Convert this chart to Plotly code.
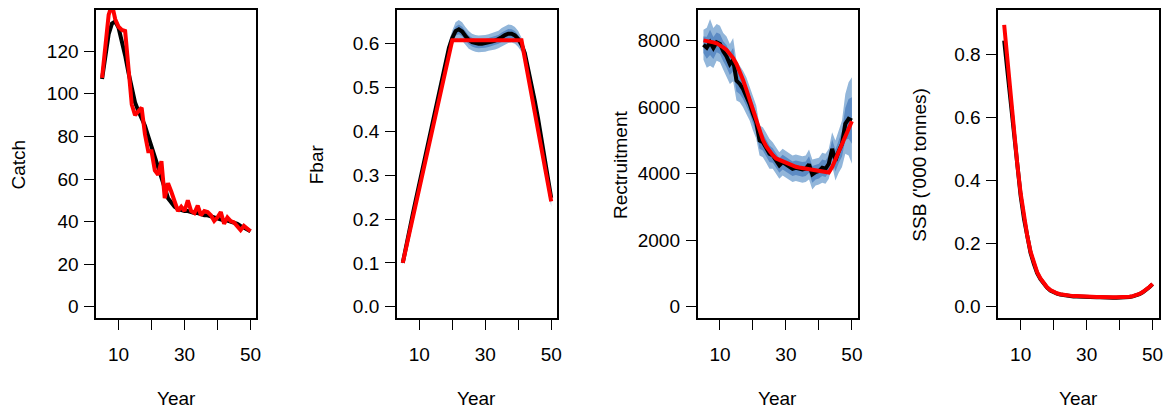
import plotly.graph_objects as go

years = list(range(5, 51))

# ---------------- Catch ----------------
catch_median = [107, 118, 128, 133, 134, 131, 125, 118, 110, 102,
                96, 92, 89, 85, 80, 75, 70, 65, 60, 55,
                51, 49, 47, 46, 45.5, 45, 45, 44.5, 44, 44,
                43.5, 43, 43, 42.5, 42, 41.5, 41, 40.5, 40.5, 40,
                39.5, 39, 38, 37, 36.5, 35.5]
catch_obs = [107.5, 122, 137, 142, 135, 131.5, 130, 129.5, 112, 95,
             90, 92, 93.5, 81, 73, 73, 64, 62, 68.4, 51,
             58, 54, 49, 45, 47, 45, 50, 45, 44, 47.5,
             43, 45, 44.5, 43, 40.3, 42, 44.5, 39, 42, 40.3,
             39.6, 38, 36, 38, 37, 35.5]

# ---------------- Fbar ----------------
fbar_median = [0.100, 0.140, 0.175, 0.210, 0.245, 0.280, 0.315, 0.350, 0.385, 0.420,
               0.455, 0.490, 0.525, 0.560, 0.590, 0.612, 0.628, 0.632, 0.627, 0.617,
               0.608, 0.603, 0.600, 0.599, 0.599, 0.600, 0.602, 0.604, 0.606, 0.609,
               0.614, 0.619, 0.622, 0.622, 0.618, 0.610, 0.597, 0.578, 0.545, 0.510,
               0.470, 0.430, 0.385, 0.340, 0.295, 0.248]
fbar_obs = [0.100, 0.134, 0.168, 0.201, 0.235, 0.269, 0.303, 0.337, 0.370, 0.404,
            0.438, 0.472, 0.506, 0.539, 0.573, 0.607, 0.607, 0.607, 0.607, 0.607,
            0.607, 0.607, 0.607, 0.607, 0.607, 0.607, 0.607, 0.607, 0.607, 0.607,
            0.607, 0.607, 0.607, 0.607, 0.607, 0.607, 0.607, 0.566, 0.526, 0.485,
            0.444, 0.403, 0.363, 0.322, 0.281, 0.240]
fbar_outer_hw = [0.004, 0.005, 0.006, 0.006, 0.007, 0.008, 0.008, 0.009, 0.010, 0.010,
                 0.011, 0.012, 0.013, 0.014, 0.015, 0.017, 0.020, 0.021, 0.021, 0.020,
                 0.020, 0.019, 0.019, 0.019, 0.019, 0.019, 0.019, 0.020, 0.020, 0.020,
                 0.021, 0.021, 0.021, 0.020, 0.019, 0.018, 0.016, 0.015, 0.014, 0.013,
                 0.013, 0.013, 0.014, 0.015, 0.017, 0.020]
fbar_inner_hw = [0.002, 0.003, 0.003, 0.003, 0.004, 0.004, 0.004, 0.005, 0.005, 0.005,
                 0.006, 0.006, 0.007, 0.007, 0.008, 0.009, 0.010, 0.011, 0.011, 0.010,
                 0.010, 0.010, 0.010, 0.010, 0.010, 0.010, 0.010, 0.010, 0.010, 0.010,
                 0.011, 0.011, 0.011, 0.010, 0.010, 0.009, 0.008, 0.008, 0.007, 0.007,
                 0.007, 0.007, 0.007, 0.008, 0.009, 0.010]

# ---------------- Recruitment ----------------
rec_median = [7880, 7790, 7950, 7780, 7950, 7900, 7680, 7530, 7300, 7430,
              6800, 6700, 6550, 6350, 6100, 5800, 5550, 5000, 4950, 4780,
              4600, 4550, 4400, 4250, 4350, 4280, 4230, 4150, 4180, 4150,
              4130, 4150, 4280, 3980, 4050, 4080, 4180, 4150, 4300, 4750,
              4400, 4680, 4900, 5500, 5650, 5600]
rec_obs = [8010, 8000, 7980, 7950, 7920, 7870, 7800, 7720, 7610, 7480,
           7300, 7080, 6820, 6530, 6220, 5890, 5560, 5260, 5020, 4830,
           4680, 4560, 4460, 4420, 4360, 4310, 4270, 4240, 4210, 4190,
           4170, 4150, 4130, 4110, 4095, 4080, 4065, 4050, 4040, 4200,
           4420, 4640, 4870, 5100, 5340, 5580]
rec_outer_hw = [450, 600, 700, 600, 550, 550, 550, 600, 600, 650,
                600, 550, 550, 550, 500, 500, 500, 450, 450, 450,
                450, 400, 400, 400, 400, 400, 400, 400, 400, 400,
                400, 400, 450, 450, 400, 400, 450, 450, 450, 500,
                600, 650, 700, 900, 1100, 1300]
rec_inner_hw = [250, 330, 380, 330, 300, 300, 300, 330, 330, 350,
                330, 300, 300, 300, 280, 280, 280, 250, 250, 250,
                250, 220, 220, 220, 220, 220, 220, 220, 220, 220,
                220, 220, 250, 250, 220, 220, 250, 250, 250, 280,
                330, 360, 380, 480, 600, 700]

# ---------------- SSB ----------------
ssb_median = [0.845, 0.745, 0.640, 0.535, 0.438, 0.352, 0.280, 0.220, 0.171, 0.136,
              0.107, 0.088, 0.072, 0.061, 0.052, 0.046, 0.042, 0.039, 0.037, 0.035,
              0.034, 0.033, 0.033, 0.032, 0.032, 0.031, 0.031, 0.030, 0.030, 0.030,
              0.029, 0.029, 0.029, 0.029, 0.029, 0.029, 0.029, 0.030, 0.031, 0.033,
              0.036, 0.040, 0.046, 0.053, 0.062, 0.072]
ssb_obs = [0.895, 0.780, 0.660, 0.550, 0.450, 0.360, 0.285, 0.225, 0.175, 0.140,
           0.110, 0.090, 0.074, 0.062, 0.053, 0.047, 0.043, 0.040, 0.038, 0.036,
           0.035, 0.034, 0.034, 0.033, 0.033, 0.032, 0.032, 0.031, 0.031, 0.031,
           0.030, 0.030, 0.030, 0.030, 0.030, 0.030, 0.030, 0.031, 0.032, 0.034,
           0.037, 0.041, 0.047, 0.054, 0.063, 0.073]

y_titles = ["Catch", "Fbar", "Rectruitment", "SSB ('000 tonnes)"]
x_title = "Year"
x_ticks = [10, 20, 30, 40, 50]
x_ticktext = ["10", "", "30", "", "50"]
y_ticks = [
    [0, 20, 40, 60, 80, 100, 120],
    [0.0, 0.1, 0.2, 0.3, 0.4, 0.5, 0.6],
    [0, 2000, 4000, 6000, 8000],
    [0.0, 0.2, 0.4, 0.6, 0.8],
]
y_ticktext = [
    ["0", "20", "40", "60", "80", "100", "120"],
    ["0.0", "0.1", "0.2", "0.3", "0.4", "0.5", "0.6"],
    ["0", "2000", "4000", "6000", "8000"],
    ["0.0", "0.2", "0.4", "0.6", "0.8"],
]
y_limits = [134, 0.65, 8580, 0.906]

for arr in [catch_median, catch_obs, fbar_median, fbar_obs, fbar_outer_hw, fbar_inner_hw,
            rec_median, rec_obs, rec_outer_hw, rec_inner_hw, ssb_median, ssb_obs]:
    assert len(arr) == len(years), len(arr)

# page body has an 8px margin, so the figure is 8px smaller and shifted
OFF = 8
W, H = 1174 - OFF, 414 - OFF
OUTER = "rgb(146,182,218)"
INNER = "rgb(92,139,196)"
BLACK = "#000000"
RED = "#ff0000"
FONT = "Liberation Sans, Arial, sans-serif"
FS = 19

fig = go.Figure()


def add_band(median, hw, color, xa, ya):
    lo = [m - h for m, h in zip(median, hw)]
    hi = [m + h for m, h in zip(median, hw)]
    fig.add_trace(go.Scatter(x=years, y=lo, mode="lines", line=dict(width=0, color=color),
                             xaxis=xa, yaxis=ya, showlegend=False, hoverinfo="skip"))
    fig.add_trace(go.Scatter(x=years, y=hi, mode="lines", line=dict(width=0, color=color),
                             fill="tonexty", fillcolor=color,
                             xaxis=xa, yaxis=ya, showlegend=False, hoverinfo="skip"))


panels = [
    (catch_median, catch_obs, None, None),
    (fbar_median, fbar_obs, fbar_outer_hw, fbar_inner_hw),
    (rec_median, rec_obs, rec_outer_hw, rec_inner_hw),
    (ssb_median, ssb_obs, None, None),
]

lefts = [96.5 - OFF, 398.5 - OFF, 700.5 - OFF, 1002.5 - OFF]
pw = 161
top_px, bot_px = 9 - OFF, 318 - OFF
ylab_x = [19 - OFF, 318 - OFF, 623 - OFF, 924 - OFF]
ylab_y = 164 - OFF
xlab_y = 398 - OFF

layout = dict(
    width=W, height=H,
    margin=dict(l=0, r=0, t=0, b=0),
    paper_bgcolor="white", plot_bgcolor="white",
    showlegend=False,
    font=dict(family=FONT, size=FS, color="#000000"),
)
annotations = []

for i, (med, obs, ohw, ihw) in enumerate(panels):
    n = "" if i == 0 else str(i + 1)
    xa, ya = "x" + n, "y" + n
    if ohw is not None:
        add_band(med, ohw, OUTER, xa, ya)
        add_band(med, ihw, INNER, xa, ya)
    fig.add_trace(go.Scatter(x=years, y=med, mode="lines", line=dict(color=BLACK, width=4),
                             xaxis=xa, yaxis=ya, showlegend=False))
    fig.add_trace(go.Scatter(x=years, y=obs, mode="lines", line=dict(color=RED, width=4),
                             xaxis=xa, yaxis=ya, showlegend=False))
    ymax = y_limits[i]
    ext = 0.04 * ymax
    x0 = lefts[i] / W
    x1 = (lefts[i] + pw) / W
    layout["xaxis" + n] = dict(
        domain=[x0, x1], anchor=ya, range=[3.2, 51.8],
        tickvals=x_ticks, ticktext=x_ticktext, ticks="outside", ticklen=10,
        tickwidth=1.3, tickcolor="#000", showgrid=False, zeroline=False,
        showline=True, linecolor="#000", linewidth=1.5, mirror=True,
        tickfont=dict(size=FS, family=FONT, color="#000"), ticklabelstandoff=8,
        fixedrange=True,
    )
    layout["yaxis" + n] = dict(
        domain=[1 - bot_px / H, 1 - top_px / H], anchor=xa, range=[-ext, ymax + ext],
        tickvals=y_ticks[i], ticktext=y_ticktext[i], ticks="outside", ticklen=10,
        tickwidth=1.3, tickcolor="#000", showgrid=False, zeroline=False,
        showline=True, linecolor="#000", linewidth=1.5, mirror=True,
        tickfont=dict(size=FS, family=FONT, color="#000"), ticklabelstandoff=2,
        fixedrange=True,
    )
    annotations.append(dict(
        text=y_titles[i], xref="paper", yref="paper",
        x=ylab_x[i] / W, y=1 - ylab_y / H, xanchor="center", yanchor="middle",
        textangle=-90, showarrow=False, font=dict(size=FS, family=FONT, color="#000"),
    ))
    annotations.append(dict(
        text=x_title, xref="paper", yref="paper",
        x=(lefts[i] + pw / 2) / W, y=1 - xlab_y / H, xanchor="center", yanchor="middle",
        showarrow=False, font=dict(size=FS, family=FONT, color="#000"),
    ))

layout["annotations"] = annotations
fig.update_layout(**layout)
fig.write_html("out.html")
